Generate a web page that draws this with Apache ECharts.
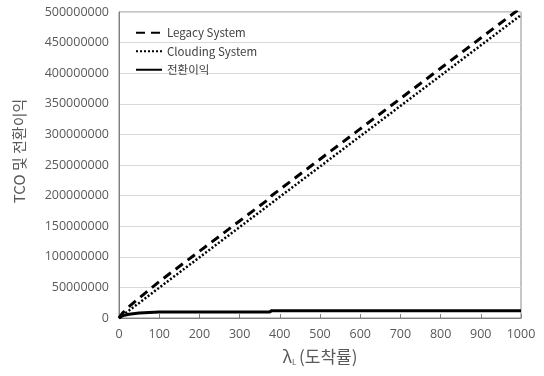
<!DOCTYPE html>
<html><head><meta charset="utf-8">
<script src="https://cdn.jsdelivr.net/npm/echarts@6/dist/echarts.min.js"></script>
<style>html,body{margin:0;padding:0;background:#fff}#c{width:544px;height:376px}</style>
</head><body><div id="c"></div>
<script>
var lambdas = [0, 10, 25, 50, 75, 100, 200, 300, 375, 380, 400, 500, 600, 700, 800, 900, 1000];
var legacy = [0, 9000000, 18500000, 32500000, 46000000, 59500000, 109000000, 158500000, 195600000, 200100000, 210000000, 259500000, 309000000, 358500000, 408000000, 457500000, 507000000];
var clouding = [0, 5000000, 12300000, 24500000, 37000000, 49500000, 99000000, 148500000, 185600000, 188100000, 198000000, 247500000, 297000000, 346500000, 396000000, 445500000, 495000000];
var profit = [0, 4000000, 6200000, 8000000, 9000000, 10000000, 10000000, 10000000, 10000000, 12000000, 12000000, 12000000, 12000000, 12000000, 12000000, 12000000, 12000000];
var seriesNames = ['Legacy System', 'Clouding System', '전환이익'];
var xTicks = [0, 100, 200, 300, 400, 500, 600, 700, 800, 900, 1000];

function pairs(arr){ return lambdas.map(function(l,i){ return [l, arr[i]]; }); }

var chart = echarts.init(document.getElementById('c'));
var font = 'Noto Sans CJK KR, Noto Sans, sans-serif';
var numFont = 'Open Sans, Noto Sans, sans-serif';
chart.setOption({
  animation: false,
  textStyle: { fontFamily: font },
  grid: { left: 119, right: 23, top: 12, bottom: 58, show: true, borderColor: '#8c8c8c', borderWidth: 1 },
  legend: {
    orient: 'vertical', left: 130, top: 22, itemGap: 7, itemWidth: 26, itemHeight: 12,
    itemStyle: { color: 'rgba(0,0,0,0)', borderWidth: 0 },
    textStyle: { fontSize: 11.5, color: '#404040', fontFamily: font },
    data: seriesNames
  },
  xAxis: {
    type: 'value', min: 0, max: 1000, interval: 100,
    name: '{a|λ}{s|L} {a|(도착률)}', nameLocation: 'middle', nameGap: 30,
    nameTextStyle: { rich: { a: { fontSize: 17, color: '#595959', fontFamily: font }, s: { fontSize: 8, color: '#595959', verticalAlign: 'bottom', padding: [10,0,0,0] } } },
    axisLine: { show: true, lineStyle: { color: '#7f7f7f', width: 1 } },
    axisTick: { show: true, inside: true, length: 4, lineStyle: { color: '#7f7f7f' } },
    axisLabel: { color: '#595959', fontSize: 12.5, fontFamily: numFont, margin: 10, formatter: function(v){ return xTicks.indexOf(v) >= 0 ? String(v) : ''; } },
    splitLine: { show: false }
  },
  yAxis: {
    type: 'value', min: 0, max: 500000000, interval: 50000000,
    name: 'TCO 및 전환이익', nameLocation: 'middle', nameGap: 92, nameRotate: 90,
    nameTextStyle: { fontSize: 15, color: '#595959', fontFamily: font, padding: [0, 0, 0, 28] },
    axisLine: { show: true, lineStyle: { color: '#7f7f7f', width: 1 } },
    axisTick: { show: false },
    axisLabel: { color: '#595959', fontSize: 12.5, fontFamily: numFont, margin: 10, formatter: function(v){ return String(v); } },
    splitLine: { show: true, lineStyle: { color: '#d9d9d9', width: 1 } }
  },
  series: [
    { name: seriesNames[0], type: 'line', data: pairs(legacy), symbol: 'none', clip: true,
      lineStyle: { color: '#000', width: 3, type: [9, 6] }, itemStyle: { color: '#000' } },
    { name: seriesNames[1], type: 'line', data: pairs(clouding), symbol: 'none', clip: true,
      lineStyle: { color: '#000', width: 2.5, type: [2, 2] }, itemStyle: { color: '#000' } },
    { name: seriesNames[2], type: 'line', data: pairs(profit), symbol: 'none', clip: true,
      lineStyle: { color: '#000', width: 3 }, itemStyle: { color: '#000' } }
  ]
});
</script></body></html>
